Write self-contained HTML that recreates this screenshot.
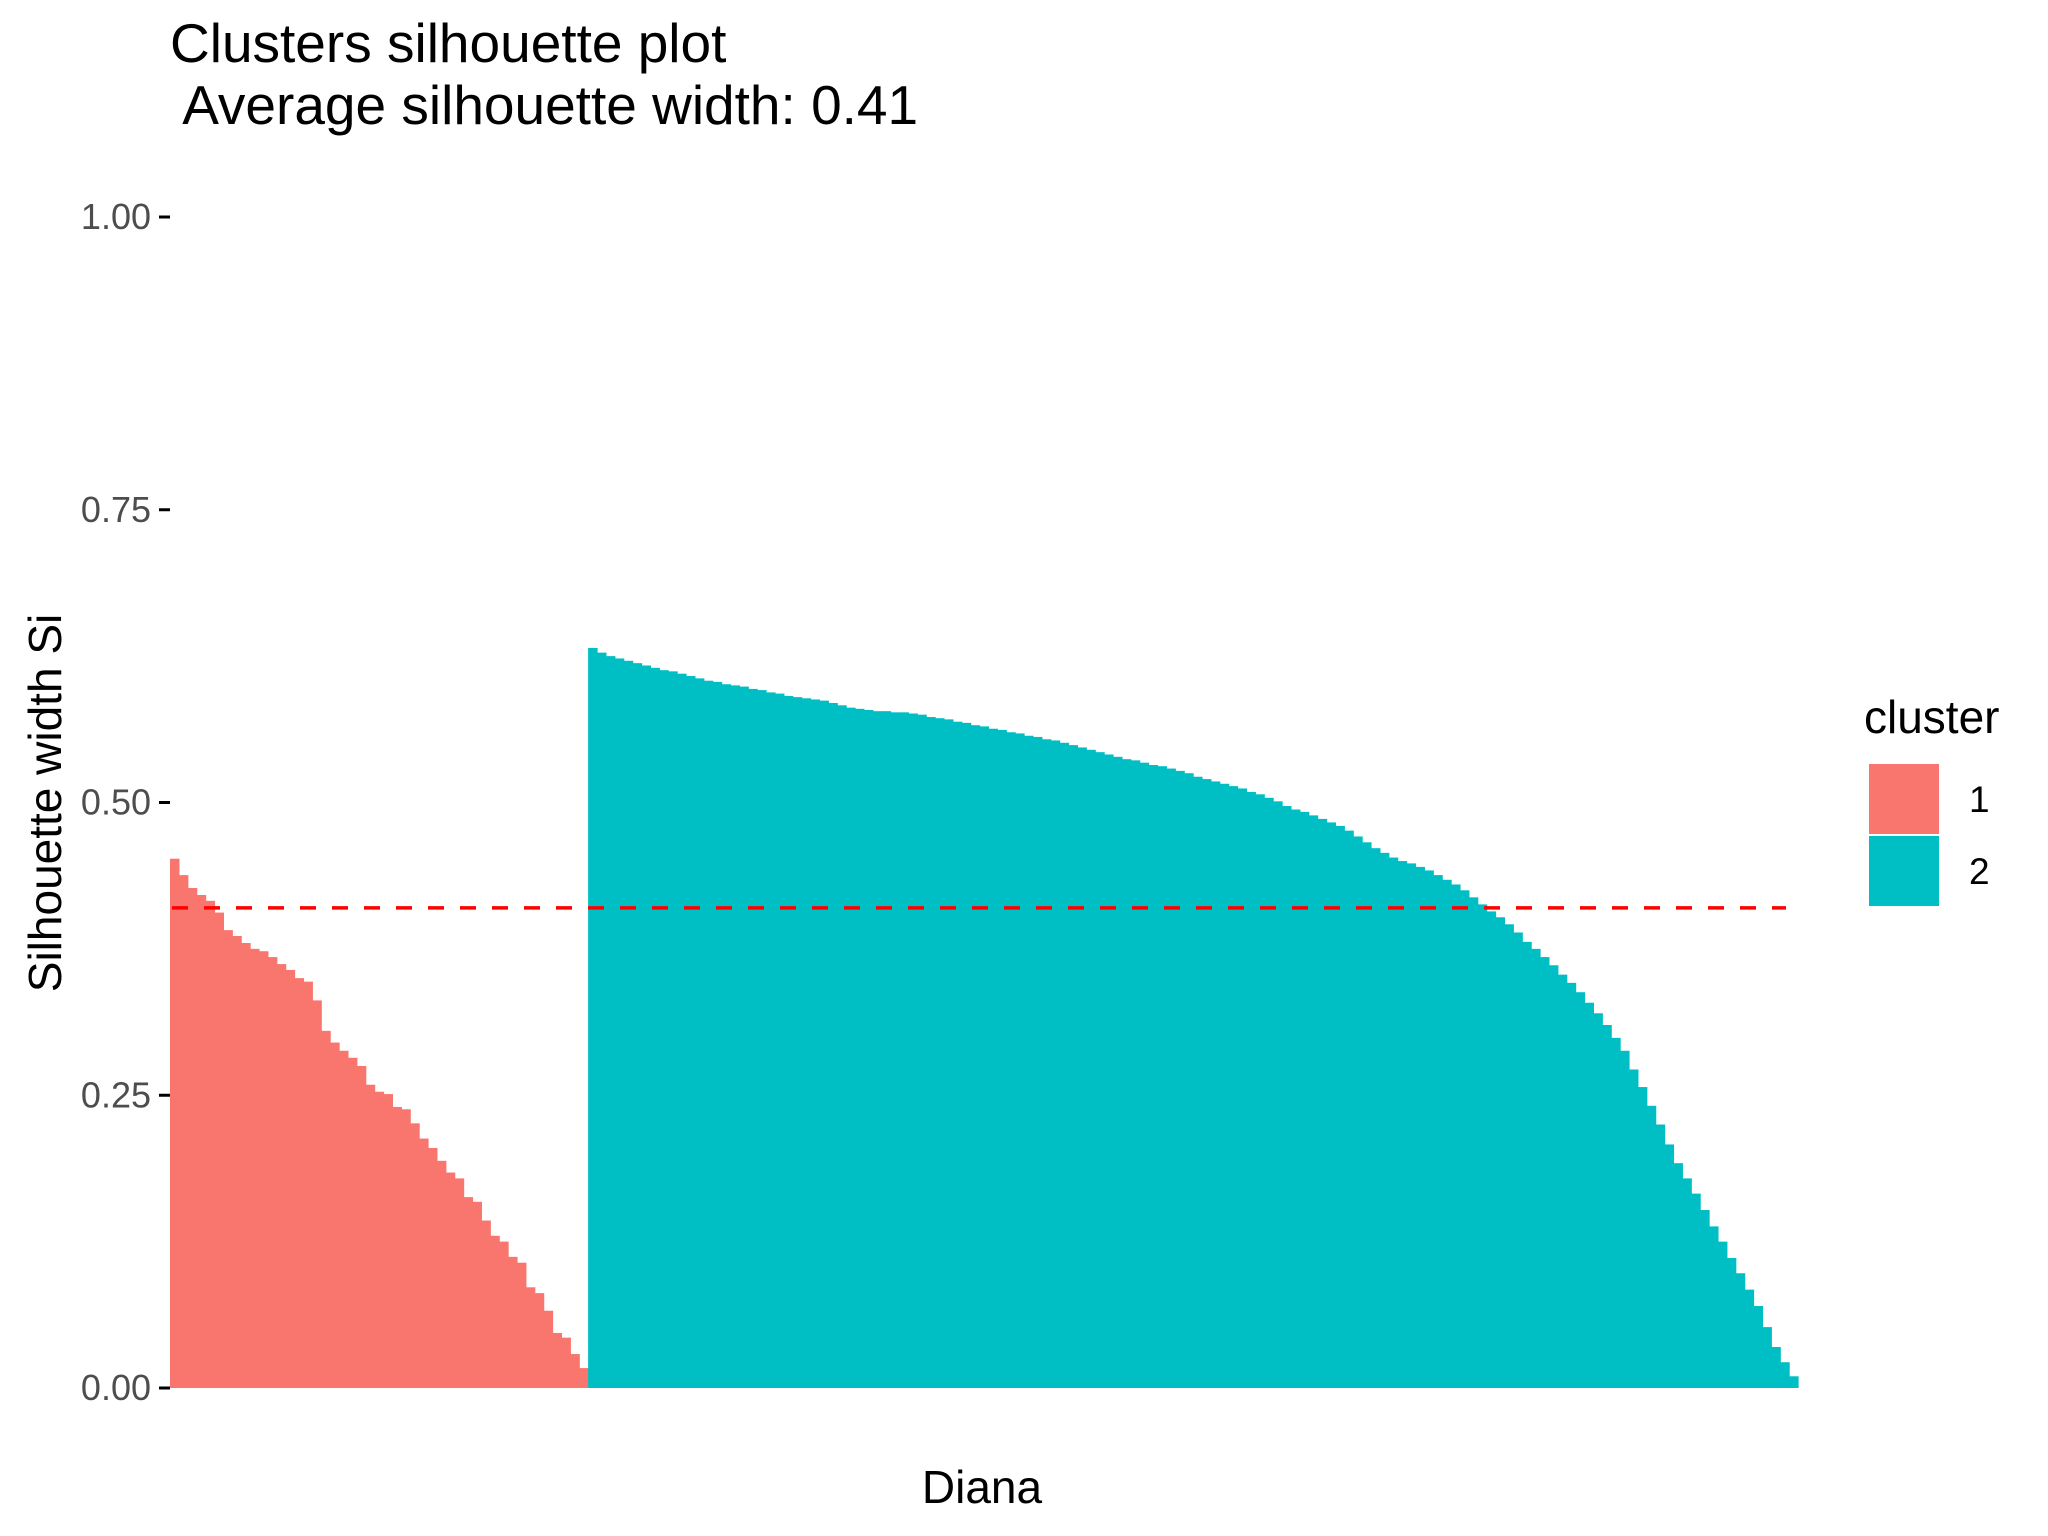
<!DOCTYPE html>
<html><head><meta charset="utf-8"><style>
html,body{margin:0;padding:0;background:#fff;}
svg{display:block;font-family:"Liberation Sans",sans-serif;}
</style></head><body>
<svg id="chart" width="2048" height="1536" viewBox="0 0 2048 1536">
<text x="170" y="62" font-size="55" fill="#000">Clusters silhouette plot</text>
<text x="170" y="124" font-size="55" fill="#000" xml:space="preserve"> Average silhouette width: 0.41</text>
<g id="bars"></g>
<g id="yaxis"></g>
<line id="avgline" stroke="#ff0000" stroke-width="3.5" stroke-dasharray="16,16"/>
<text x="45" y="803" font-size="46" fill="#000" text-anchor="middle" transform="rotate(-90 45 803)" dy="16">Silhouette width Si</text>
<text x="982" y="1503" font-size="46" fill="#000" text-anchor="middle">Diana</text>
<g>
<text x="1864" y="733" font-size="46" fill="#000">cluster</text>
<rect x="1869" y="764" width="70" height="70" fill="#F8766D"/>
<rect x="1869" y="836" width="70" height="70" fill="#00BFC4"/>
<text x="1969" y="812" font-size="37" fill="#000">1</text>
<text x="1969" y="884" font-size="37" fill="#000">2</text>
</g>
</svg>
<script>
const cluster1Values = [0.452,0.438,0.427,0.421,0.416,0.406,0.391,0.386,0.380,0.375,0.373,0.368,0.362,0.357,0.350,0.347,0.331,0.305,0.295,0.288,0.282,0.275,0.259,0.253,0.251,0.240,0.238,0.226,0.213,0.205,0.194,0.184,0.179,0.163,0.159,0.143,0.130,0.125,0.112,0.107,0.086,0.081,0.066,0.047,0.043,0.029,0.017];
const cluster2Values = [.632,.628,.625,.623,.621,.619,.617,.615,.613,.612,.610,.608,.606,.604,.603,.601,.600,.599,.597,.596,.594,.593,.591,.590,.589,.588,.587,.585,.583,.581,.580,.579,.578,.578,.577,.577,.576,.575,.573,.572,.571,.569,.568,.566,.565,.563,.562,.560,.559,.557,.556,.554,.553,.551,.549,.547,.545,.543,.541,.539,.537,.536,.534,.532,.531,.529,.527,.525,.522,.520,.518,.516,.514,.512,.509,.507,.504,.501,.497,.494,.492,.489,.486,.483,.480,.476,.471,.466,.461,.457,.453,.450,.448,.445,.442,.438,.434,.430,.425,.419,.413,.407,.402,.396,.389,.381,.375,.368,.361,.353,.346,.338,.329,.320,.310,.299,.288,.272,.257,.241,.225,.208,.192,.179,.166,.152,.138,.125,.111,.098,.084,.070,.052,.035,.022,.010];
const clusterColors = ["#F8766D","#00BFC4"];
const yTicks = [0,0.25,0.5,0.75,1];
const yTickLabels = ["0.00","0.25","0.50","0.75","1.00"];
const avgWidth = 0.41;

const NS="http://www.w3.org/2000/svg";
const X0=170, X1=1798, Y0=1388, Y1=217;
const yScale=v=>Y0-(Y0-Y1)*v;
const total=cluster1Values.length+cluster2Values.length;
const band=(X1-X0)/total;
const xScale=i=>X0+i*band;
const bars=document.getElementById('bars');
let idx=0;
[cluster1Values,cluster2Values].forEach((vals,c)=>{
  vals.forEach(v=>{
    const r=document.createElementNS(NS,'rect');
    r.setAttribute('x',xScale(idx));
    r.setAttribute('width',band+0.6);
    r.setAttribute('y',yScale(v));
    r.setAttribute('height',Y0-yScale(v));
    r.setAttribute('fill',clusterColors[c]);
    
    
    bars.appendChild(r);
    idx++;
  });
});
const ya=document.getElementById('yaxis');
yTicks.forEach((t,i)=>{
  const y=yScale(t);
  const l=document.createElementNS(NS,'line');
  l.setAttribute('x1',159);l.setAttribute('x2',170);l.setAttribute('y1',y);l.setAttribute('y2',y);
  l.setAttribute('stroke','#000');l.setAttribute('stroke-width','3');
  
  
  ya.appendChild(l);
  const tx=document.createElementNS(NS,'text');
  tx.setAttribute('x',151);tx.setAttribute('y',y+12);
  tx.setAttribute('text-anchor','end');tx.setAttribute('font-size','36');tx.setAttribute('fill','#4d4d4d');
  tx.textContent=yTickLabels[i];
  
  
  ya.appendChild(tx);
});
const al=document.getElementById('avgline');
al.setAttribute('x1',172);al.setAttribute('x2',1786);
al.setAttribute('y1',yScale(avgWidth));al.setAttribute('y2',yScale(avgWidth));
</script>
</body></html>
